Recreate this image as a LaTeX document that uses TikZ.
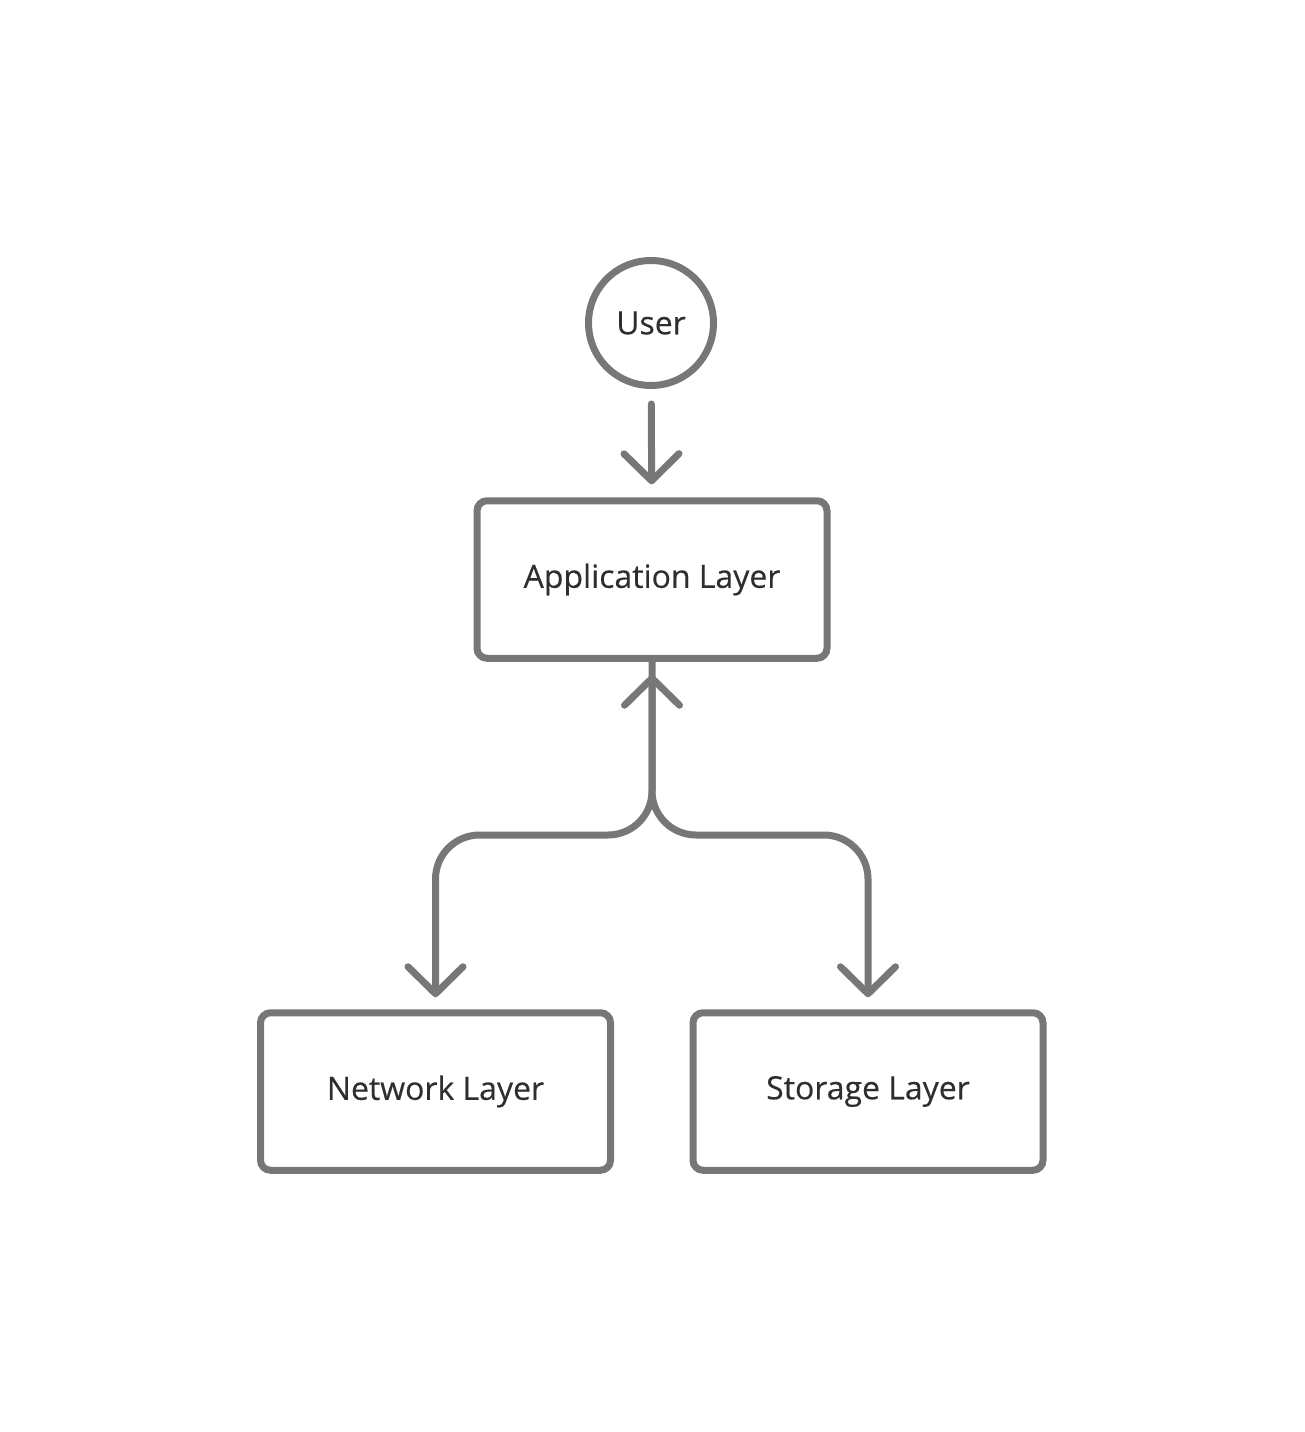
\documentclass[tikz,border=0pt]{standalone}
\usepackage{fontspec}
\setmainfont{Open Sans}
\newfontfamily\labelfont[FakeBold=0.35]{Open Sans}
\usetikzlibrary{arrows.meta}

\definecolor{edgegray}{HTML}{777777}
\definecolor{textgray}{HTML}{2E2E2E}

\begin{document}
\begin{tikzpicture}[
        >={Straight Barb[length=0.54cm,width=1.1cm,round]},
        layer/.style={
            draw=edgegray,
            line width=0.14cm,
            rounded corners=0.2cm,
            align=center,
            minimum height=3.15cm,
            minimum width=7cm,
            text=textgray,
            font=\labelfont\fontsize{18.2}{21}\selectfont
        },
        actor/.style={
            draw=edgegray,
            circle,
            line width=0.14cm,
            inner sep=0pt,
            minimum size=2.5cm,
            text=textgray,
            font=\labelfont\fontsize{18.2}{21}\selectfont
        },
        flow/.style={
            draw=edgegray,
            line width=0.14cm,
            line cap=round,
            line join=round
        }
    ]

        \useasboundingbox (0,0) rectangle (26.08,-28.64);

        \node[actor] (user) at (13.02,-6.46)
        {User};

        \node[layer] (app) at (13.04,-11.59)
        {Application Layer};

        \node[layer] (network) at (8.71,-21.83)
        {Network Layer};

        \node[layer] (storage) at (17.36,-21.83)
        {Storage Layer};

        \coordinate (split) at (13.04,-16.7);

        \draw[flow, ->, shorten <=0.3cm, shorten >=0.26cm] (user) -- (app);
        \draw[flow, <->, rounded corners=0.88cm, shorten <=0.26cm, shorten >=0.24cm]
            (app.south) -- (split) -| (network.north);
        \draw[flow, ->, rounded corners=0.88cm, shorten >=0.24cm]
            (app.south) -- (split) -| (storage.north);

    \end{tikzpicture}
\end{document}
